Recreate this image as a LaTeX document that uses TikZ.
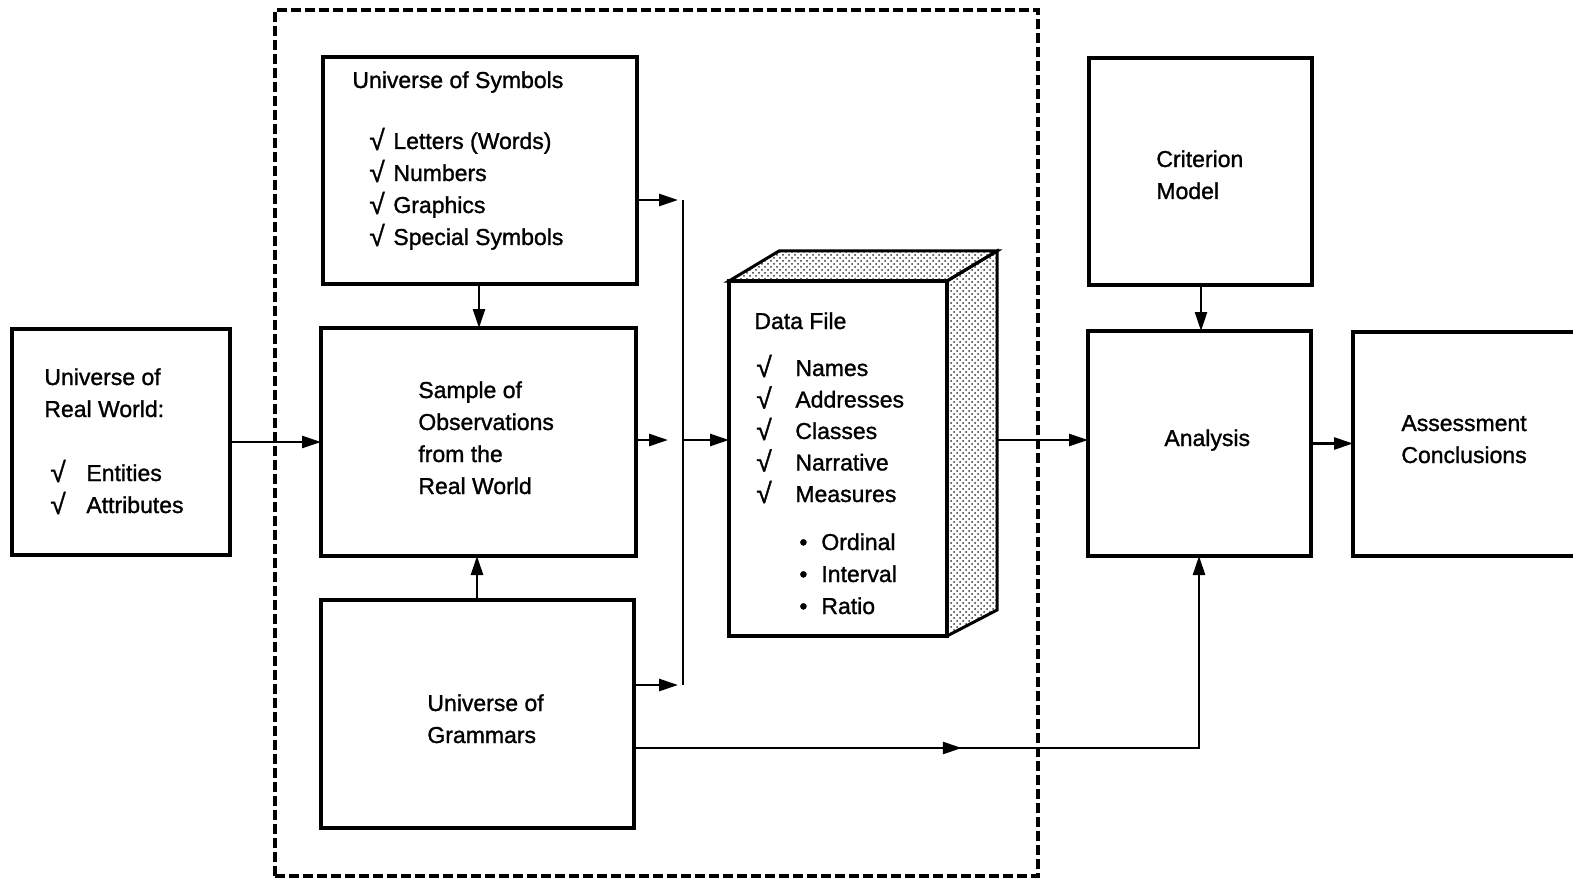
\documentclass[tikz,border=0pt]{standalone}
\usepackage{fontspec}
\setmainfont{Liberation Sans}[FakeBold=1.2]
\usetikzlibrary{arrows.meta,fit,decorations.markings,patterns}
% check-marked and bulleted list entries
\newcommand\tickitem[2]{\makebox[#1][l]{\raisebox{-0.5pt}{\fontsize{14}{16}\selectfont √}}#2}
\newcommand\dotitem[1]{\makebox[11pt][l]{•}#1}

\begin{document}
\begin{tikzpicture}[x=0.5pt,y=-0.5pt,
  box/.style={draw, line width=1.7pt, inner sep=0pt, outer sep=0pt, rectangle},
  face/.style={draw, line width=1.5pt, line join=miter},
  lbl/.style={anchor=base west, inner sep=0pt, align=left, font=\fontsize{11.5}{16}\selectfont},
  conn/.style={line width=1.3pt},
  arr/.style={conn, -{Triangle[length=9.5pt,width=6pt]}},
  midarr/.style={conn, postaction={decorate}, decoration={markings, mark=at position #1 with {\arrow{Triangle[length=9.5pt,width=6pt]}}}},
  frame/.style={draw, line width=1.6pt, dash pattern=on 5pt off 2pt, inner sep=0pt},
  stipple/.style={pattern=crosshatch dots, pattern color=black!80}
]
\clip (0,0) rectangle (1573,882);
\fill[white] (0,0) rectangle (1573,882);

% dashed enclosure
\node[frame, fit={(275,10)(1038,876)}] (encl) {};

% boxes
\node[box, fit={(12,329)(230,555)}] (rw) {};
\node[box, fit={(323,57)(637,284)}] (sym) {};
\node[box, fit={(321,328)(636,556)}] (samp) {};
\node[box, fit={(321,600)(634,828)}] (gram) {};
\node[box, fit={(1089,58)(1312,285)}] (crit) {};
\node[box, fit={(1088,331)(1311,556)}] (ana) {};
\node[box, fit={(1353,332)(1600,556)}] (ass) {};

% data file drawn as a block
\node[box, fit={(729,281)(947,636)}] (data) {};
\draw[face, stipple] (data.north west) -- ++(50,-30) -- ++(218,0) -- (data.north east) -- cycle;
\draw[face, stipple] (data.north east) -- ++(50,-30) -- ++(0,359) -- (data.south east) -- cycle;

% junction points
\coordinate (bustop) at (683,200);
\coordinate (busmid) at (683,440);
\coordinate (busbot) at (683,685);
\coordinate (dataout) at (997,440);
\coordinate (gramrow) at (0,748);

% connectors
\draw[arr] (rw.east) -- (samp.west |- rw.east);
\draw[arr] (sym.south -| 479,0) -- (samp.north -| 479,0);
\draw[arr] (gram.north -| 477,0) -- (samp.south -| 477,0);
\draw[arr, shorten >=2.5pt] (sym.east |- bustop) -- (bustop);
\draw[arr, shorten >=2.5pt] (gram.east |- busbot) -- (busbot);
\draw[conn] (bustop) -- (busbot);
\draw[arr, shorten >=7.5pt] (samp.east |- busmid) -- (busmid);
\draw[arr] (busmid) -- (data.west |- busmid);
\draw[arr] (dataout) -- (ana.west |- dataout);
\draw[arr] (ana.east) -- (ass.west |- ana.east);
\draw[arr] (crit.south -| 1201,0) -- (ana.north -| 1201,0);
\draw[midarr=0.433, -{Triangle[length=9.5pt,width=6pt]}] (gram.east |- gramrow) -- (1199,748) -- (ana.south -| 1199,0);

% texts (a multi-line label sits on the baseline of its last line)
\node[lbl] (rwtitle) at (44,417) {Universe of\\Real World:};
\node[lbl] (rwlist) at (50,513) {\tickitem{18pt}{Entities}\\\tickitem{18pt}{Attributes}};

\node[lbl] (symtitle) at (352,88) {Universe of Symbols};
\node[lbl] (symlist) at (369,245) {\tickitem{12pt}{Letters (Words)}\\\tickitem{12pt}{Numbers}\\\tickitem{12pt}{Graphics}\\\tickitem{12pt}{Special Symbols}};

\node[lbl] (samptext) at (418,494) {Sample of\\Observations\\from the\\Real World};
\node[lbl] (gramtext) at (427,743) {Universe of\\Grammars};

\node[lbl] (datatitle) at (754,329) {Data File};
\node[lbl, font=\fontsize{11.5}{15.75}\selectfont] (datalist) at (756,502) {\tickitem{19.5pt}{Names}\\\tickitem{19.5pt}{Addresses}\\\tickitem{19.5pt}{Classes}\\\tickitem{19.5pt}{Narrative}\\\tickitem{19.5pt}{Measures}};
\node[lbl] (scales) at (799,614) {\dotitem{Ordinal}\\\dotitem{Interval}\\\dotitem{Ratio}};

\node[lbl] (crittext) at (1156,199) {Criterion\\Model};
\node[lbl] (anatext) at (1164,446) {Analysis};
\node[lbl] (asstext) at (1401,463) {Assessment\\Conclusions};
\end{tikzpicture}
\end{document}
